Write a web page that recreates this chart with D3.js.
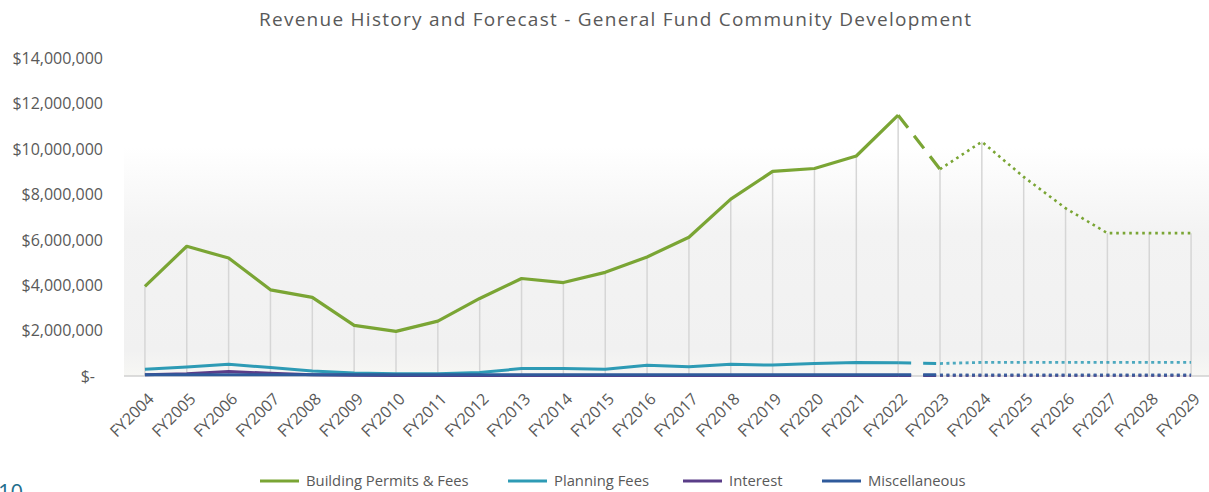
<!DOCTYPE html>
<html>
<head>
<meta charset="utf-8">
<script src="https://cdn.jsdelivr.net/npm/d3@7"></script>
<style>
  html, body { margin: 0; padding: 0; background: #ffffff; }
  svg { display: block; font-family: "Open Sans", "DejaVu Sans", sans-serif; }
</style>
</head>
<body>
<svg id="chart" width="1209" height="492"></svg>
<script>
// Fiscal years on the category axis
const categories = ["FY2004","FY2005","FY2006","FY2007","FY2008","FY2009","FY2010","FY2011","FY2012",
  "FY2013","FY2014","FY2015","FY2016","FY2017","FY2018","FY2019","FY2020","FY2021","FY2022",
  "FY2023","FY2024","FY2025","FY2026","FY2027","FY2028","FY2029"];

// Revenue by source, in dollars (FY2004-FY2022 actual, FY2023 estimate, FY2024+ forecast)
const buildingPermits = [3950000, 5720000, 5200000, 3800000, 3470000, 2230000, 1970000, 2420000, 3420000,
  4300000, 4120000, 4570000, 5250000, 6120000, 7800000, 9020000, 9150000, 9700000, 11500000,
  9120000, 10330000, 8780000, 7400000, 6300000, 6300000, 6300000];
const planningFees = [300000, 400000, 520000, 370000, 220000, 130000, 100000, 100000, 150000,
  330000, 330000, 300000, 470000, 410000, 520000, 480000, 550000, 600000, 580000,
  550000, 600000, 600000, 600000, 600000, 600000, 600000];
const interest = [50000, 100000, 200000, 120000, 60000, 30000, 20000, 20000, 20000,
  20000, 20000, 20000, 20000, 20000, 20000, 20000, 20000, 20000, 20000,
  20000, 20000, 20000, 20000, 20000, 20000, 20000];
const miscellaneous = [50000, 50000, 50000, 50000, 50000, 50000, 50000, 50000, 50000,
  50000, 50000, 50000, 50000, 50000, 50000, 50000, 50000, 50000, 50000,
  50000, 50000, 50000, 50000, 50000, 50000, 50000];

const yTicks = [0, 2000000, 4000000, 6000000, 8000000, 10000000, 12000000, 14000000];

const seriesNames = ["Building Permits & Fees", "Planning Fees", "Interest", "Miscellaneous"];
const seriesColors = ["#7aa534", "#2e9bb5", "#5a3d88", "#2f5a9b"];
const seriesValues = [buildingPermits, planningFees, interest, miscellaneous];

// Index ranges for the actual / estimate / forecast portions of each line
const lastActual = categories.indexOf("FY2022");
const estimateYear = categories.indexOf("FY2023");

const svg = d3.select("#chart");
const plot = { left: 124, right: 1212, top: 58.5, bottom: 376 };

const x = d3.scaleBand().domain(categories).range([plot.left, plot.right]);
const cx = c => x(c) + x.bandwidth() / 2;
const y = d3.scaleLinear().domain([0, 14000000]).range([plot.bottom, plot.top]);

// Plot area background: soft vertical gradient
const defs = svg.append("defs");
const grad = defs.append("linearGradient").attr("id", "plotBg")
  .attr("x1", 0).attr("y1", 0).attr("x2", 0).attr("y2", 1);
grad.append("stop").attr("offset", "0%").attr("stop-color", "#ffffff");
grad.append("stop").attr("offset", "28%").attr("stop-color", "#ffffff");
grad.append("stop").attr("offset", "55%").attr("stop-color", "#f3f3f3");
grad.append("stop").attr("offset", "92%").attr("stop-color", "#f1f1f1");
grad.append("stop").attr("offset", "100%").attr("stop-color", "#f7f7f4");
svg.append("rect")
  .attr("x", plot.left).attr("y", plot.top)
  .attr("width", plot.right - plot.left).attr("height", plot.bottom - plot.top)
  .attr("fill", "url(#plotBg)");

// Title
svg.append("text")
  .attr("x", 615).attr("y", 26)
  .attr("text-anchor", "middle")
  .attr("fill", "#595959")
  .attr("font-size", 19)
  .attr("textLength", 712)
  .attr("lengthAdjust", "spacing")
  .text("Revenue History and Forecast - General Fund Community Development");

// Y axis labels (accounting style)
const yFmt = d3.format(",");
svg.append("g").selectAll("text").data(yTicks).join("text")
  .attr("x", d => d === 0 ? 95 : 103)
  .attr("y", d => y(d))
  .attr("dy", "0.35em")
  .attr("text-anchor", "end")
  .attr("fill", "#595959")
  .attr("font-size", 16)
  .text(d => d === 0 ? "$-" : "$" + yFmt(d));

// Drop lines from the highest series down to the baseline
svg.append("g").selectAll("line").data(categories).join("line")
  .attr("x1", d => cx(d)).attr("x2", d => cx(d))
  .attr("y1", (d, i) => y(buildingPermits[i]))
  .attr("y2", plot.bottom)
  .attr("stroke", "#d6d6d6")
  .attr("stroke-width", 1.5);

// Category axis baseline
svg.append("line")
  .attr("x1", plot.left).attr("x2", plot.right)
  .attr("y1", plot.bottom).attr("y2", plot.bottom)
  .attr("stroke", "#d0d0d0").attr("stroke-width", 1.5);

// Category labels, rotated
svg.append("g").selectAll("text").data(categories).join("text")
  .attr("transform", d => `translate(${cx(d) + 6},${plot.bottom + 20}) rotate(-45)`)
  .attr("text-anchor", "end")
  .attr("dy", "0.35em")
  .attr("fill", "#595959")
  .attr("font-size", 16)
  .text(d => d);

// Series lines: solid actuals, dashed estimate, dotted forecast
const line = d3.line().x(d => cx(d.c)).y(d => y(d.v));
const pts = vals => vals.map((v, i) => ({ c: categories[i], v }));

const lines = svg.append("g").attr("fill", "none").attr("stroke-linecap", "butt").attr("stroke-linejoin", "round");
seriesValues.forEach((vals, si) => {
  const p = pts(vals);
  const main = si === 0;
  const w = main ? 3.2 : 3;
  lines.append("path")
    .attr("d", line(p.slice(0, lastActual + 1)))
    .attr("stroke", seriesColors[si]).attr("stroke-width", w);
  lines.append("path")
    .attr("d", line(p.slice(lastActual, estimateYear + 1)))
    .attr("stroke", seriesColors[si]).attr("stroke-width", w)
    .attr("stroke-dasharray", main ? "16,10" : "13,12");
  lines.append("path")
    .attr("d", line(p.slice(estimateYear)))
    .attr("stroke", seriesColors[si]).attr("stroke-width", main ? 2.6 : 2.8)
    .attr("stroke-dasharray", main ? "2.6,3.9" : "3,3.4")
    .attr("opacity", main ? 1 : 0.85);
});

// Legend
const legendItems = [
  { name: seriesNames[0], color: seriesColors[0], x: 260 },
  { name: seriesNames[1], color: seriesColors[1], x: 508 },
  { name: seriesNames[2], color: seriesColors[2], x: 683 },
  { name: seriesNames[3], color: seriesColors[3], x: 822 }
];
const lg = svg.append("g").selectAll("g").data(legendItems).join("g")
  .attr("transform", d => `translate(${d.x},481)`);
lg.append("line").attr("x1", 0).attr("x2", 39).attr("y1", 0).attr("y2", 0)
  .attr("stroke", d => d.color).attr("stroke-width", 3);
lg.append("text").attr("x", 46).attr("dy", "0.35em")
  .attr("fill", "#595959").attr("font-size", 14.8)
  .text(d => d.name);

// Page number at the lower-left edge
svg.append("text")
  .attr("x", -2).attr("y", 500)
  .attr("fill", "#1f6e8c").attr("font-size", 22)
  .text("10");
</script>
</body>
</html>
